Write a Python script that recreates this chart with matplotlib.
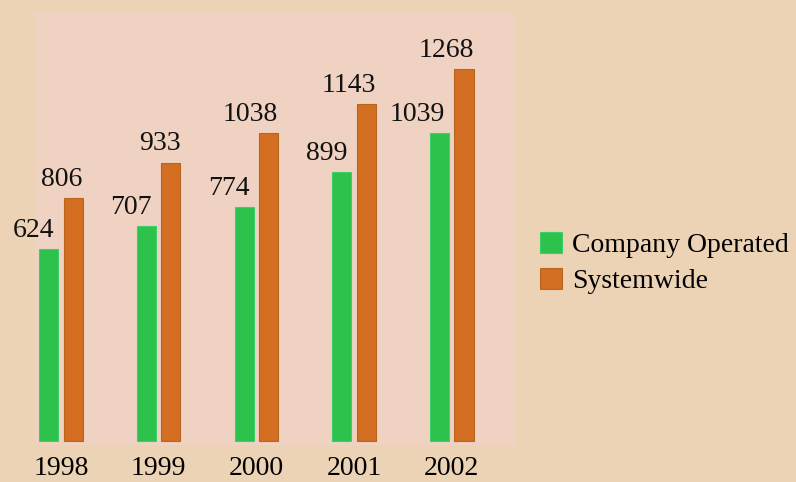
import numpy as np
import matplotlib
matplotlib.use("Agg")
import matplotlib.pyplot as plt

years = ["1998", "1999", "2000", "2001", "2002"]
company_operated = [624, 707, 774, 899, 1039]
systemwide = [806, 933, 1038, 1143, 1268]

fig_bg = "#ecd3b5"
plot_bg = "#f0d2c3"
green = "#2cc24c"
orange = "#d36e22"

plt.rcParams['font.family'] = ['Liberation Serif', 'DejaVu Serif']

fig = plt.figure(figsize=(7.96, 4.82), dpi=100, facecolor=fig_bg)
ax = fig.add_axes([35 / 796, 1 - 445 / 482, 480 / 796, 433 / 482])
ax.set_facecolor(plot_bg)

x = np.arange(len(years))
w = 0.195
off = 0.125
base = -62  # bars start a little below the value origin, as drawn

b1 = ax.bar(x - off, np.array(company_operated) - base, w, bottom=base,
            color=green, edgecolor="#3fcf6a", linewidth=0.8, label="Company Operated")
b2 = ax.bar(x + off, np.array(systemwide) - base, w, bottom=base,
            color=orange, edgecolor="#b8661e", linewidth=0.8, label="Systemwide")

for i in range(len(years)):
    ax.text(x[i] - off + w / 2 - 0.04, company_operated[i] + 22, str(company_operated[i]),
            ha="right", va="bottom", fontsize=20, color="#111111")
    ax.text(x[i] + off + w / 2, systemwide[i] + 22, str(systemwide[i]),
            ha="right", va="bottom", fontsize=20, color="#111111")

ax.set_xlim(-0.266, 4.647)
ax.set_ylim(-76, 1471)
ax.set_xticks(x)
ax.set_xticklabels(years, fontsize=20)
ax.tick_params(axis="x", length=0, pad=8)
ax.set_yticks([])
for s in ax.spines.values():
    s.set_visible(False)

fig.legend(handles=[b1, b2], loc="center left", bbox_to_anchor=(540 / 796, 1 - 263 / 482),
           frameon=False, fontsize=20, handlelength=0.78, handleheight=0.78,
           handletextpad=0.38, labelspacing=0.35, borderpad=0, borderaxespad=0)

fig.savefig("out.png", dpi=100, facecolor=fig_bg)
